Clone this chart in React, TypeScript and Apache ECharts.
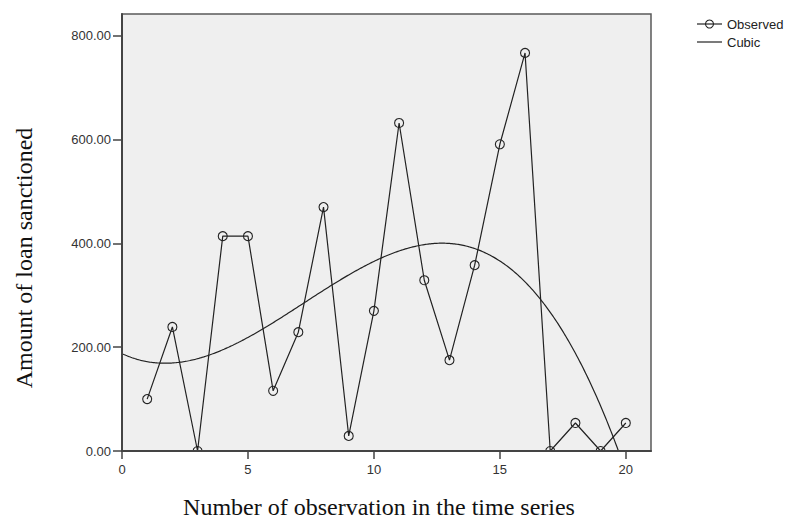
import React, { useEffect, useRef } from "react";
import * as echarts from "echarts";

const observationNumbers = [1, 2, 3, 4, 5, 6, 7, 8, 9, 10, 11, 12, 13, 14, 15, 16, 17, 18, 19, 20];
const loanAmounts = [100, 239, 0, 414, 414, 116, 229, 470, 29, 270, 632, 329, 175, 358, 591, 767, 0, 54, 0, 54];
const yTickValues = [0, 200, 400, 600, 800];
const xTickValues = [0, 5, 10, 15, 20];
const legendNames = ["Observed", "Cubic"];
const xTitle = "Number of observation in the time series";
const yTitle = "Amount of loan sanctioned";

// Least-squares cubic fit of the observed data (what SPSS "Cubic" curve estimation draws)
function fitCubic(xs: number[], ys: number[]) {
  const n = xs.length;
  const mean = xs.reduce((a, b) => a + b, 0) / n;
  const A: number[][] = [];
  for (let i = 0; i < 4; i++) {
    A.push([0, 0, 0, 0, 0]);
  }
  for (let k = 0; k < n; k++) {
    const u = xs[k] - mean;
    const p = [1, u, u * u, u * u * u];
    for (let i = 0; i < 4; i++) {
      for (let j = 0; j < 4; j++) A[i][j] += p[i] * p[j];
      A[i][4] += p[i] * ys[k];
    }
  }
  for (let c = 0; c < 4; c++) {
    let piv = c;
    for (let r = c + 1; r < 4; r++) if (Math.abs(A[r][c]) > Math.abs(A[piv][c])) piv = r;
    const tmp = A[c];
    A[c] = A[piv];
    A[piv] = tmp;
    for (let r = 0; r < 4; r++) {
      if (r === c) continue;
      const f = A[r][c] / A[c][c];
      for (let j = c; j < 5; j++) A[r][j] -= f * A[c][j];
    }
  }
  const coef = A.map((row, i) => row[4] / row[i]);
  return (x: number) => {
    const u = x - mean;
    return coef[0] + coef[1] * u + coef[2] * u * u + coef[3] * u * u * u;
  };
}

export default function App() {
  const ref = useRef<HTMLDivElement>(null);
  useEffect(() => {
    if (!ref.current) return;
    const chart = echarts.init(ref.current, undefined, { renderer: "svg" });
    const cubic = fitCubic(observationNumbers, loanAmounts);
    const curve: number[][] = [];
    for (let i = 0; i <= 420; i++) {
      const x = i * 0.05;
      curve.push([x, cubic(x)]);
    }
    const observed = observationNumbers.map((x, i) => [x, loanAmounts[i]]);
    const sans = 'Arial, "Liberation Sans", sans-serif';
    const serif = '"Times New Roman", "Liberation Serif", serif';
    const ink = "#222";
    const gridLeft = 122;
    const gridTop = 14;
    const gridW = 529;
    const gridH = 437;
    const legendX = 697;
    const legendRows = [24, 42];
    chart.setOption({
      animation: false,
      backgroundColor: "#ffffff",
      grid: {
        left: gridLeft,
        top: gridTop,
        width: gridW,
        height: gridH,
        show: true,
        backgroundColor: "#efefef",
        borderColor: "#5a5a5a",
        borderWidth: 1.5,
      },
      xAxis: {
        type: "value",
        min: 0,
        max: 21,
        z: 5,
        axisLine: { show: true, lineStyle: { color: "#444", width: 2 } },
        axisTick: { show: true, length: 8, customValues: xTickValues, lineStyle: { color: "#444", width: 1.5 } },
        axisLabel: { customValues: xTickValues, margin: 12, fontFamily: sans, fontSize: 13, color: "#333" },
        splitLine: { show: false },
      },
      yAxis: {
        type: "value",
        min: 0,
        max: 842,
        z: 5,
        axisLine: { show: true, lineStyle: { color: "#444", width: 2 } },
        axisTick: { show: true, length: 9, customValues: yTickValues, lineStyle: { color: "#444", width: 1.5 } },
        axisLabel: {
          customValues: yTickValues,
          margin: 11,
          fontFamily: sans,
          fontSize: 13,
          color: "#333",
          formatter: (v: number) => v.toFixed(2),
        },
        splitLine: { show: false },
      },
      graphic: [
        {
          type: "rect",
          z: 3,
          shape: { x: gridLeft + 1, y: gridTop + gridH + 1, width: gridW - 2, height: 10 },
          style: { fill: "#ffffff" },
        },
        {
          type: "text",
          x: 379,
          y: 507,
          style: {
            text: xTitle,
            fontFamily: serif,
            fontSize: 24,
            fill: "#111",
            textAlign: "center",
            textVerticalAlign: "middle",
          },
        },
        {
          type: "text",
          x: 24,
          y: 258,
          rotation: Math.PI / 2,
          style: {
            text: yTitle,
            fontFamily: serif,
            fontSize: 24,
            fill: "#111",
            textAlign: "center",
            textVerticalAlign: "middle",
          },
        },
        {
          type: "line",
          shape: { x1: legendX, y1: legendRows[0], x2: legendX + 25, y2: legendRows[0] },
          style: { stroke: ink, lineWidth: 1.2 },
        },
        {
          type: "circle",
          shape: { cx: legendX + 12.5, cy: legendRows[0], r: 4 },
          style: { fill: "none", stroke: ink, lineWidth: 1.1 },
        },
        {
          type: "text",
          x: legendX + 30,
          y: legendRows[0],
          style: { text: legendNames[0], fontFamily: sans, fontSize: 13, fill: ink, textVerticalAlign: "middle" },
        },
        {
          type: "line",
          shape: { x1: legendX, y1: legendRows[1], x2: legendX + 25, y2: legendRows[1] },
          style: { stroke: ink, lineWidth: 1.2 },
        },
        {
          type: "text",
          x: legendX + 30,
          y: legendRows[1],
          style: { text: legendNames[1], fontFamily: sans, fontSize: 13, fill: ink, textVerticalAlign: "middle" },
        },
      ],
      series: [
        {
          name: legendNames[0],
          type: "line",
          data: observed,
          symbol: "circle",
          symbolSize: 9,
          showAllSymbol: true,
          z: 2,
          lineStyle: { color: ink, width: 1.2 },
          itemStyle: { color: "rgba(0,0,0,0)", borderColor: ink, borderWidth: 1.1 },
        },
        {
          name: legendNames[1],
          type: "line",
          data: curve,
          showSymbol: false,
          symbol: "none",
          z: 2,
          clip: true,
          lineStyle: { color: ink, width: 1.2 },
          itemStyle: { color: ink },
        },
      ],
    });
    return () => chart.dispose();
  }, []);
  return <div ref={ref} style={{ position: "fixed", left: 0, top: 0, width: 787, height: 521 }} />;
}
